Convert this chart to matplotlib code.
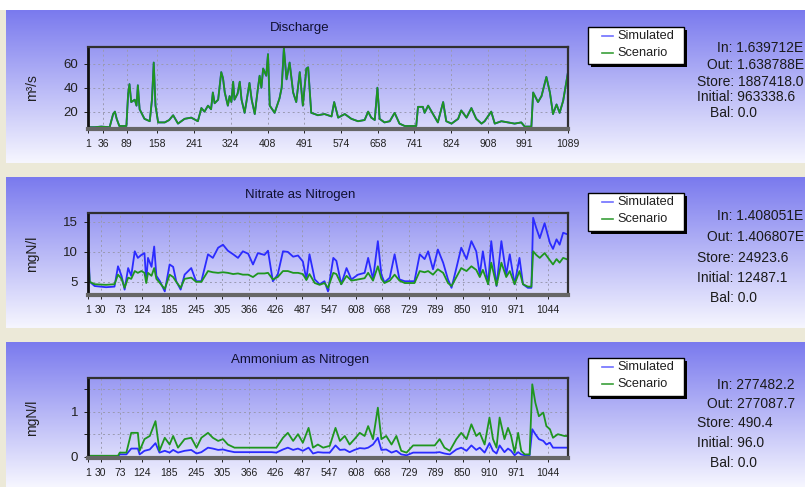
import numpy as np
import matplotlib.pyplot as plt
from matplotlib.patches import Rectangle

W, H = 805, 487
plt.rcParams['font.family'] = ['Liberation Sans', 'DejaVu Sans']

# --- Discharge (m3/s); simulated sits exactly under scenario ---
days_q = [1, 16, 31, 50, 58, 62, 66, 72, 88, 92, 95, 99, 107, 111, 114, 118, 129, 141, 146, 150,
          154, 160, 175, 185, 194, 205, 220, 235, 250, 258, 265, 273, 280, 284, 288, 296, 303, 307,
          311, 318, 322, 326, 330, 333, 340, 345, 349, 356, 360, 367, 372, 379, 386, 390, 394, 398,
          405, 409, 413, 424, 435, 440, 445, 451, 458, 466, 473, 481, 488, 496, 500, 507, 515, 522,
          537, 553, 559, 568, 583, 598, 613, 628, 636, 643, 651, 657, 662, 673, 685, 696, 707, 719,
          745, 749, 760, 764, 772, 783, 794, 806, 813, 825, 840, 847, 859, 870, 881, 893, 900, 915,
          923, 938, 953, 968, 983, 991, 1006, 1010, 1021, 1029, 1040, 1048, 1055, 1063, 1070, 1078,
          1089]
scenario_q = [7, 7, 7.5, 7, 18, 20, 14, 8, 8, 35, 43, 28, 30, 25, 42, 22, 14, 12, 30, 61,
              25, 11, 11, 13, 17, 10, 14, 15, 12, 23, 20, 25, 22, 36, 27, 30, 53, 48,
              36, 25, 33, 28, 45, 30, 35, 45, 30, 19, 28, 44, 30, 18, 39, 50, 40, 56,
              50, 68, 25, 19, 31, 40, 73, 47, 61, 36, 28, 53, 25, 56, 57, 19, 18, 17,
              18, 16, 28, 15, 18, 14, 12, 13, 20, 15, 13, 40, 14, 11, 12, 19, 10, 8,
              8, 24, 24, 19, 25, 18, 11, 28, 12, 10, 14, 21, 15, 23, 14, 10, 12, 20,
              10, 12, 11, 10, 11, 7.5, 7.5, 36, 28, 33, 49, 36, 18, 26, 19, 29,
              53]
simulated_q = list(scenario_q)

# --- Nitrate as nitrogen (mgN/l) ---
days_no3 = [1, 5, 16, 42, 61, 69, 77, 84, 92, 99, 107, 114, 122, 129, 133, 137, 145, 151, 156, 164,
            175, 186, 194, 201, 211, 220, 235, 246, 258, 273, 284, 296, 307, 318, 330, 341, 352, 364,
            375, 386, 401, 409, 420, 431, 443, 454, 466, 477, 488, 496, 503, 515, 526, 537, 545, 557,
            564, 575, 587, 598, 613, 628, 636, 647, 658, 666, 673, 685, 696, 707, 719, 741, 753, 764,
            772, 783, 794, 806, 817, 825, 836, 847, 859, 870, 881, 889, 896, 908, 915, 927, 938, 949,
            957, 968, 979, 987, 998, 1006, 1010, 1017, 1025, 1036, 1048, 1055, 1063, 1070, 1078, 1089]
simulated_no3 = [12.0, 5.0, 4.3, 4.1, 4.2, 7.6, 6.0, 3.7, 7.3, 6.0, 10.1, 9.0, 9.5, 9.8, 5.1, 9.0, 7.5,
                 10.9, 6.0, 5.1, 3.4, 7.9, 7.5, 5.1, 3.7, 6.2, 7.3, 5.1, 5.1, 9.6, 9.0, 10.7, 11.2,
                 10.2, 9.6, 9.0, 10.1, 9.7, 7.9, 9.8, 9.5, 10.2, 5.1, 6.2, 10.1, 10.0, 9.2, 9.4, 8.4,
                 5.4, 9.6, 5.4, 4.6, 5.1, 3.4, 9.0, 8.5, 4.6, 7.3, 5.4, 6.2, 6.5, 9.0, 5.4, 11.8, 6.2,
                 4.9, 5.7, 9.6, 5.4, 5.1, 5.1, 9.6, 8.8, 10.1, 7.1, 10.4, 8.2, 5.4, 4.0, 7.3, 10.7,
                 8.8, 11.8, 10.1, 6.2, 10.1, 4.6, 11.8, 4.3, 11.8, 6.2, 9.6, 4.6, 9.0, 4.6, 4.0, 4.0,
                 15.7, 14.0, 12.3, 14.8, 11.5, 10.5, 12.1, 11.2, 13.2, 12.9]
scenario_no3 = [9.5, 5.0, 4.6, 4.5, 4.6, 6.2, 5.5, 4.0, 5.7, 5.5, 6.8, 6.5, 6.8, 6.5, 4.8, 6.5, 6.0,
                7.3, 5.5, 4.8, 3.8, 6.2, 5.8, 5.0, 4.0, 5.5, 5.7, 5.0, 5.0, 6.8, 6.6, 6.5, 6.6,
                6.5, 6.3, 6.4, 6.2, 6.2, 5.8, 6.4, 6.4, 6.5, 5.4, 5.8, 6.8, 6.8, 6.5, 6.5, 6.3,
                5.3, 6.3, 4.8, 4.5, 4.8, 4.0, 6.5, 6.3, 4.6, 6.0, 5.2, 5.4, 5.6, 6.5, 5.2, 7.6, 5.5,
                4.8, 5.2, 6.2, 5.2, 4.8, 4.8, 6.8, 6.6, 6.8, 6.2, 7.1, 6.5, 4.8, 4.3, 5.8, 7.3,
                6.8, 7.6, 7.0, 5.8, 7.0, 4.6, 8.2, 4.4, 8.2, 5.8, 6.8, 4.6, 6.8, 4.6, 4.2, 4.2,
                10.1, 9.5, 9.0, 9.8, 8.6, 7.9, 8.8, 8.2, 9.0, 8.7]

# --- Ammonium as nitrogen (mgN/l) ---
days_nh4 = [1, 39, 69, 73, 88, 99, 107, 114, 118, 129, 141, 154, 163, 175, 186, 194, 205, 220, 235,
            247, 258, 273, 284, 296, 307, 318, 333, 356, 386, 417, 428, 443, 454, 466, 477, 488, 501,
            511, 522, 534, 549, 562, 572, 583, 594, 605, 617, 628, 636, 647, 658, 666, 677, 689, 700,
            711, 723, 738, 787, 798, 809, 821, 836, 847, 859, 870, 881, 889, 900, 911, 919, 927, 934,
            945, 953, 960, 968, 976, 983, 991, 1002, 1008, 1015, 1023, 1033, 1040, 1048, 1055, 1066,
            1081, 1089]
scenario_nh4 = [0.02, 0.02, 0.02, 0.09, 0.09, 0.53, 0.53, 0.53, 0.13, 0.39, 0.46, 0.79, 0.13, 0.42,
                0.27, 0.46, 0.2, 0.39, 0.42, 0.2, 0.42, 0.53, 0.42, 0.35, 0.39, 0.27, 0.2, 0.2, 0.2,
                0.2, 0.2, 0.42, 0.53, 0.35, 0.5, 0.31, 0.64, 0.2, 0.27, 0.2, 0.24, 0.64, 0.35, 0.46,
                0.27, 0.39, 0.53, 0.46, 0.68, 0.39, 1.09, 0.39, 0.46, 0.27, 0.46, 0.13, 0.09, 0.25,
                0.25, 0.39, 0.2, 0.13, 0.39, 0.53, 0.39, 0.72, 0.46, 0.53, 0.27, 0.87, 0.39, 0.2,
                0.87, 0.39, 0.64, 0.46, 0.09, 0.53, 0.13, 0.05, 0.05, 1.61, 1.2, 0.9, 0.98, 0.68,
                0.61, 0.42, 0.5, 0.46, 0.46]
simulated_nh4 = [0.0, 0.0, 0.0, 0.05, 0.05, 0.18, 0.18, 0.18, 0.05, 0.13, 0.16, 0.30, 0.09, 0.13,
                 0.09, 0.15, 0.09, 0.13, 0.15, 0.07, 0.10, 0.2, 0.18, 0.15, 0.16, 0.13, 0.10, 0.10,
                 0.10, 0.10, 0.09, 0.16, 0.2, 0.15, 0.18, 0.13, 0.2, 0.07, 0.10, 0.09, 0.09, 0.25,
                 0.15, 0.16, 0.10, 0.15, 0.19, 0.18, 0.2, 0.27, 0.42, 0.15, 0.16, 0.09, 0.13, 0.05,
                 0.03, 0.09, 0.09, 0.10, 0.07, 0.05, 0.16, 0.2, 0.13, 0.25, 0.15, 0.2, 0.09, 0.30,
                 0.13, 0.07, 0.25, 0.10, 0.18, 0.13, 0.03, 0.10, 0.05, 0.03, 0.03, 0.61, 0.5, 0.39,
                 0.35, 0.27, 0.31, 0.2, 0.2, 0.2, 0.2]

ticks_q = [1, 36, 89, 158, 241, 324, 408, 491, 574, 658, 741, 824, 908, 991, 1089]
ticks_n = [1, 30, 73, 124, 185, 245, 305, 366, 426, 487, 547, 608, 668, 729, 789, 850, 910, 971, 1044]

# totals as they appear in the window (long ones are cut at the right edge there)
stats_q = ['In: 1.639712E', 'Out: 1.638788E', 'Store: 1887418.0', 'Initial: 963338.6', 'Bal: 0.0']
stats_no3 = ['In: 1.408051E', 'Out: 1.406807E', 'Store: 24923.6', 'Initial: 12487.1', 'Bal: 0.0']
stats_nh4 = ['In: 277482.2', 'Out: 277087.7', 'Store: 490.4', 'Initial: 96.0', 'Bal: 0.0']

panels = [
    dict(top=10, bottom=163, box=(88, 47, 568, 129), title='Discharge', title_y=28, ylabel='m\u00b3/s',
         days=days_q, sim=simulated_q, scen=scenario_q, xticks=ticks_q, ylim=(5.5, 74),
         yticks=[20, 40, 60], ylabels=['20', '40', '60'], leg=(588, 27, 684, 64),
         stats=stats_q, stats_y=[48, 65, 82, 97, 113]),
    dict(top=177, bottom=328, box=(88, 213, 568, 295), title='Nitrate as Nitrogen', title_y=195,
         ylabel='mgN/l', days=days_no3, sim=simulated_no3, scen=scenario_no3, xticks=ticks_n,
         ylim=(2.8, 16.5), yticks=[5, 10, 15], ylabels=['5', '10', '15'], leg=(588, 193, 684, 231),
         stats=stats_no3, stats_y=[216, 237, 258, 278, 298]),
    dict(top=342, bottom=487, box=(88, 378, 568, 458), title='Ammonium as Nitrogen', title_y=360,
         ylabel='mgN/l', days=days_nh4, sim=simulated_nh4, scen=scenario_nh4, xticks=ticks_n,
         ylim=(-0.03, 1.75), yticks=[0, 0.5, 1, 1.5], ylabels=['0', '', '1', ''], leg=(588, 358, 684, 396),
         stats=stats_nh4, stats_y=[385, 404, 423, 443, 463]),
]
stats_x = [717, 707, 697, 697, 710]

fig = plt.figure(figsize=(W / 100, H / 100), dpi=100)
fig.patch.set_facecolor('#ece9d8')

# background layer in pixel coordinates
bg = fig.add_axes([0, 0, 1, 1])
bg.set_xlim(0, W)
bg.set_ylim(H, 0)
bg.axis('off')
bg.add_patch(Rectangle((0, 0), W, 10, facecolor='white', edgecolor='none'))

top_col = np.array([122, 122, 238]) / 255
bot_col = np.array([246, 246, 255]) / 255
t = np.linspace(0, 1, 200)[:, None]
grad = (top_col * (1 - t) + bot_col * t)[:, None, :]

for p in panels:
    bg.imshow(grad, extent=(6, W, p['bottom'], p['top']), aspect='auto', interpolation='bilinear', zorder=0)

    # legend box with shadow
    l, tp, r, b = p['leg']
    bg.add_patch(Rectangle((l + 3, tp + 3), r - l, b - tp, facecolor='black', edgecolor='none', zorder=2))
    bg.add_patch(Rectangle((l, tp), r - l, b - tp, facecolor='white', edgecolor='black', lw=1, zorder=3))
    bg.plot([l + 14, l + 25], [tp + 9, tp + 9], color='#7070ff', lw=1.2, zorder=4)
    bg.plot([l + 14, l + 25], [tp + 26, tp + 26], color='#3aa03a', lw=1.2, zorder=4)
    bg.text(l + 29, tp + 9, 'Simulated', fontsize=9.2, va='center', color='#202020', zorder=4)
    bg.text(l + 29, tp + 26, 'Scenario', fontsize=9.2, va='center', color='#202020', zorder=4)

    for s, x, y in zip(p['stats'], stats_x, p['stats_y']):
        bg.text(x, y, s, fontsize=10, va='center', ha='left', color='#1a1a1a', zorder=4)

    bg.text(300, p['title_y'], p['title'], fontsize=9.5, ha='center', va='center', color='#101030')
    bx0, by0, bx1, by1 = p['box']
    bg.text(32, (by0 + by1) / 2, p['ylabel'], rotation=90, fontsize=10, ha='center', va='center',
            color='#202020')

    ax = fig.add_axes([bx0 / W, 1 - by1 / H, (bx1 - bx0) / W, (by1 - by0) / H])
    ax.set_facecolor('none')
    ax.plot(p['days'], p['sim'], color='#2b2bff', lw=1.3)
    ax.plot(p['days'], p['scen'], color='#1f961f', lw=1.3)
    ax.set_xlim(1, 1089)
    ax.set_ylim(*p['ylim'])
    ax.set_xticks(p['xticks'])
    ax.set_xticklabels([str(v) for v in p['xticks']])
    ax.set_yticks(p['yticks'])
    ax.set_yticklabels(p['ylabels'])
    ax.grid(True, color='#9a9ab0', linestyle=(0, (2, 3)), lw=0.7)
    ax.tick_params(labelsize=7.5, colors='#202020', length=3, width=0.7, pad=2)
    ax.tick_params(axis='y', labelsize=9.5, pad=4)
    ax.tick_params(axis='x', pad=4)
    for side in ['top', 'right']:
        ax.spines[side].set_color('#303030')
        ax.spines[side].set_linewidth(1.6)
    ax.spines['left'].set_color('#101010')
    ax.spines['left'].set_linewidth(2.0)
    ax.spines['bottom'].set_color('#666666')
    ax.spines['bottom'].set_linewidth(3.0)

fig.savefig('out.png', dpi=100, facecolor=fig.get_facecolor())
